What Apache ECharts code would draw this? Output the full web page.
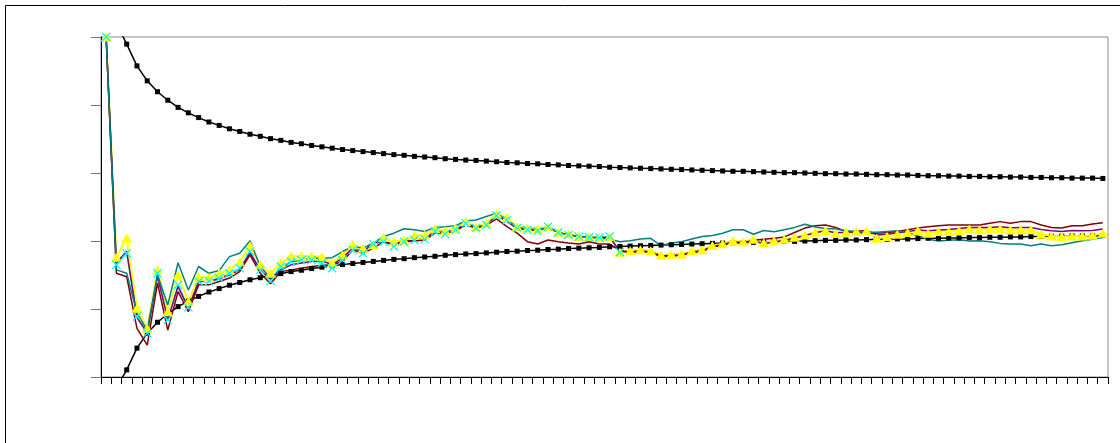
<!DOCTYPE html>
<html>
<head>
<meta charset="utf-8">
<script src="https://cdn.jsdelivr.net/npm/echarts@6/dist/echarts.min.js"></script>
<style>
html,body{margin:0;padding:0;background:#fff;}
#chart{width:1120px;height:443px;}
</style>
</head>
<body>
<div id="chart"></div>
<script>
const categories = [1,2,3,4,5,6,7,8,9,10,11,12,13,14,15,16,17,18,19,20,21,22,23,24,25,26,27,28,29,30,31,32,33,34,35,36,37,38,39,40,41,42,43,44,45,46,47,48,49,50,51,52,53,54,55,56,57,58,59,60,61,62,63,64,65,66,67,68,69,70,71,72,73,74,75,76,77,78,79,80,81,82,83,84,85,86,87,88,89,90,91,92,93,94,95,96,97,98];

const upperBound = [null,1.040,0.979,0.915,0.871,0.839,0.814,0.793,0.777,0.763,0.750,0.740,0.730,0.722,0.714,0.708,0.701,0.696,0.690,0.686,0.681,0.677,0.673,0.669,0.666,0.663,0.660,0.657,0.654,0.652,0.649,0.647,0.645,0.642,0.640,0.638,0.637,0.635,0.633,0.631,0.630,0.628,0.627,0.625,0.624,0.622,0.621,0.620,0.619,0.617,0.616,0.615,0.614,0.613,0.612,0.611,0.610,0.609,0.608,0.607,0.606,0.605,0.605,0.604,0.603,0.602,0.601,0.601,0.600,0.599,0.598,0.598,0.597,0.597,0.596,0.595,0.595,0.594,0.594,0.593,0.592,0.592,0.591,0.591,0.590,0.590,0.589,0.589,0.588,0.588,0.587,0.587,0.586,0.586,0.585,0.585,0.585,0.584];

const lowerBound = [null,-0.032,0.021,0.085,0.129,0.161,0.186,0.207,0.223,0.237,0.250,0.260,0.270,0.278,0.286,0.292,0.299,0.304,0.310,0.314,0.319,0.323,0.327,0.331,0.334,0.337,0.340,0.343,0.346,0.348,0.351,0.353,0.355,0.358,0.360,0.362,0.363,0.365,0.367,0.369,0.370,0.372,0.373,0.375,0.376,0.378,0.379,0.380,0.381,0.383,0.384,0.385,0.386,0.387,0.388,0.389,0.390,0.391,0.392,0.393,0.394,0.395,0.395,0.396,0.397,0.398,0.399,0.399,0.400,0.401,0.402,0.402,0.403,0.403,0.404,0.405,0.405,0.406,0.406,0.407,0.408,0.408,0.409,0.409,0.410,0.410,0.411,0.411,0.412,0.412,0.413,0.413,0.414,0.414,0.415,0.415,0.415,0.416];

const yellowSeries = [1.000,0.352,0.408,0.202,0.143,0.315,0.192,0.300,0.222,0.295,
0.293,0.305,0.315,0.339,0.386,0.330,0.305,0.335,0.356,0.356,
0.356,0.354,0.335,0.359,0.389,0.379,0.389,0.410,0.398,0.403,
0.416,0.418,0.436,0.430,0.438,0.457,0.442,0.452,0.480,0.469,
0.442,0.438,0.436,0.442,0.426,0.421,0.413,0.413,0.410,0.413,
0.367,0.371,0.374,0.371,0.359,0.361,0.362,0.371,0.374,0.387,
0.392,0.401,0.398,0.405,0.395,0.401,0.405,0.411,0.418,0.426,
0.431,0.423,0.426,0.428,0.430,0.408,0.413,0.420,0.425,0.431,
0.423,0.428,0.428,0.431,0.435,0.433,0.436,0.436,0.433,0.433,
0.433,0.420,0.415,0.413,0.415,0.415,0.417,0.423];

const cyanSeries = [1.000,0.330,0.364,0.178,0.129,0.305,0.168,0.271,0.205,0.281,
0.281,0.291,0.305,0.320,0.369,0.315,0.283,0.325,0.339,0.344,
0.344,0.335,0.320,0.344,0.374,0.364,0.391,0.398,0.384,0.398,
0.403,0.405,0.428,0.420,0.433,0.452,0.438,0.447,0.475,0.462,
0.438,0.433,0.430,0.442,0.425,0.418,0.413,0.411,0.410,0.413,
0.367,null,null,null,null,null,null,null,null,null,
null,null,null,null,null,null,null,null,null,null,
null,null,null,null,null,null,null,null,null,null,
null,null,null,null,null,null,null,null,null,null,
null,null,null,null,null,null,null,null];

const purpleSeries = [1.000,0.336,0.370,0.175,0.130,0.297,0.168,0.266,0.203,0.281,
0.281,0.289,0.300,0.315,0.366,0.315,0.288,0.315,0.330,0.335,
0.340,0.342,0.330,0.350,0.380,0.368,0.395,0.400,0.390,0.400,
0.403,0.408,0.428,0.425,0.433,0.452,0.440,0.447,0.475,0.458,
0.436,0.433,0.430,0.440,0.425,0.418,0.413,0.411,0.410,0.411,
0.370,0.366,0.369,0.366,0.354,0.356,0.357,0.366,0.369,0.382,
0.387,0.396,0.393,0.400,0.392,0.397,0.402,0.408,0.416,0.424,
0.430,0.424,0.426,0.429,0.431,0.418,0.420,0.424,0.428,0.432,
0.430,0.432,0.434,0.437,0.440,0.440,0.440,0.442,0.439,0.440,
0.440,0.434,0.430,0.428,0.431,0.430,0.431,0.435];

const darkRedSeries = [1.000,0.305,0.295,0.143,0.094,0.276,0.138,0.251,0.192,0.271,
0.271,0.281,0.291,0.310,0.359,0.305,0.274,0.310,0.315,0.320,
0.325,0.328,0.330,0.339,0.374,0.364,0.379,0.398,0.389,0.398,
0.400,0.403,0.423,0.423,0.430,0.447,0.438,0.447,0.465,0.442,
0.423,0.398,0.391,0.403,0.398,0.394,0.391,0.398,0.391,0.391,
0.372,0.368,0.371,0.368,0.356,0.358,0.359,0.368,0.371,0.384,
0.389,0.398,0.395,0.402,0.405,0.408,0.412,0.425,0.438,0.445,
0.447,0.440,0.428,0.425,0.423,0.423,0.425,0.428,0.433,0.438,
0.442,0.445,0.447,0.447,0.447,0.447,0.452,0.457,0.452,0.457,
0.457,0.447,0.440,0.438,0.445,0.445,0.450,0.454];

const tealSeries = [1.000,0.315,0.305,0.188,0.138,0.300,0.212,0.336,0.256,0.325,
0.305,0.313,0.354,0.364,0.401,0.325,0.291,0.315,0.339,0.344,
0.349,0.349,0.351,0.369,0.384,0.379,0.394,0.413,0.423,0.436,
0.433,0.428,0.440,0.442,0.445,0.459,0.462,0.472,0.482,0.462,
0.440,0.436,0.433,0.440,0.425,0.418,0.413,0.411,0.408,0.405,
0.398,0.401,0.406,0.408,0.386,0.394,0.398,0.406,0.413,0.416,
0.423,0.433,0.433,0.420,0.431,0.427,0.433,0.440,0.449,0.441,
0.437,0.435,0.430,0.428,0.426,0.426,0.428,0.430,0.424,0.415,
0.405,0.400,0.402,0.404,0.400,0.401,0.398,0.393,0.391,0.391,
0.386,0.391,0.386,0.389,0.395,0.401,0.405,0.410];

const yTicks = [0, 0.2, 0.4, 0.6, 0.8, 1.0];

const crossPath = 'path://M0,1 L1,0 L5,4 L9,0 L10,1 L6,5 L10,9 L9,10 L5,6 L1,10 L0,9 L4,5 Z';

function lineOnly(data, color, width, z) {
  return {
    type: 'line', data: data, symbol: 'none', showSymbol: false,
    lineStyle: { color: color, width: width }, itemStyle: { color: color },
    z: z, clip: true, silent: true, animation: false
  };
}
function markersOnly(data, symbol, size, color, z) {
  return {
    type: 'line', data: data, symbol: symbol, symbolSize: size,
    showSymbol: true, showAllSymbol: true,
    lineStyle: { width: 0, opacity: 0 }, itemStyle: { color: color, borderWidth: 0 },
    z: z, clip: true, silent: true, animation: false
  };
}

const chart = echarts.init(document.getElementById('chart'), null, { renderer: 'canvas' });
chart.setOption({
  backgroundColor: '#ffffff',
  animation: false,
  graphic: [{
    type: 'rect', silent: true, z: 100,
    shape: { x: 5.5, y: 5.5, width: 1300, height: 600 },
    style: { fill: 'none', stroke: '#000', lineWidth: 1 }
  }],
  grid: {
    left: 101, top: 37, width: 1007, height: 340,
    show: true, borderColor: '#8c8c8c', borderWidth: 1, backgroundColor: 'transparent'
  },
  xAxis: {
    type: 'category', data: categories, boundaryGap: true,
    axisLine: { show: true, lineStyle: { color: '#000', width: 1 } },
    axisTick: { show: true, interval: 0, length: 7, lineStyle: { color: '#000' } },
    axisLabel: { show: false },
    splitLine: { show: false }
  },
  yAxis: {
    type: 'value', min: yTicks[0], max: yTicks[yTicks.length - 1], interval: yTicks[1] - yTicks[0],
    axisLine: { show: true, lineStyle: { color: '#000', width: 1 } },
    axisTick: { show: true, length: 10, lineStyle: { color: '#777' } },
    axisLabel: { show: false },
    splitLine: { show: false }
  },
  series: [
    lineOnly(upperBound, '#000000', 1.5, 2),
    lineOnly(lowerBound, '#000000', 1.5, 2),
    lineOnly(yellowSeries, '#FFFF00', 2, 3),
    lineOnly(cyanSeries, '#00FFFF', 1.5, 4),
    lineOnly(purpleSeries, '#800080', 1.5, 5),
    lineOnly(darkRedSeries, '#800000', 1.5, 6),
    lineOnly(tealSeries, '#008080', 1.5, 7),
    markersOnly(upperBound, 'rect', 5, '#000000', 10),
    markersOnly(lowerBound, 'rect', 5, '#000000', 10),
    markersOnly(yellowSeries, 'triangle', [11, 9], '#FFFF00', 11),
    markersOnly(cyanSeries, crossPath, 9, '#00FFFF', 12)
  ]
});
</script>
</body>
</html>
